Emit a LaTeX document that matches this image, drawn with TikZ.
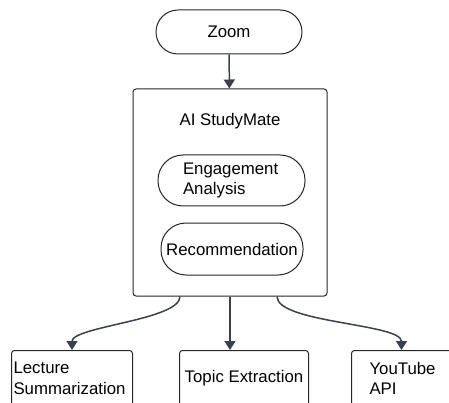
\documentclass[tikz,border=0pt]{standalone}
\usepackage{fontspec}
\setmainfont{Liberation Sans}
\usetikzlibrary{arrows.meta}
\definecolor{linkgray}{RGB}{58,64,78}

\begin{document}
\begin{tikzpicture}[x=1pt,y=-1pt,every text node part/.style={align=left},
    font=\fontsize{16.8}{20.5}\selectfont]
  \tikzstyle{pill}=[draw=black!85,line width=1pt,inner sep=2pt]
  \tikzstyle{block}=[draw=black!85,line width=1pt,rounded corners=3pt,
    inner sep=2pt,anchor=north west,minimum height=56pt]
  \tikzstyle{link}=[draw=linkgray,line width=1.5pt,
    -{Triangle[length=9pt,width=11pt]}]

  \clip (0,0) rectangle (449,403);

  \node [pill,rounded corners=22pt,minimum width=146pt,minimum height=44pt] (zoom) at (229,32) {Zoom};
  \node [block,anchor=center,minimum width=194pt,minimum height=207pt] (mate) at (230,192.5) {};
  \node (title) at (230,121) {AI StudyMate};
  \node [pill,rounded corners=25pt,minimum width=147pt,minimum height=51pt,text width=97pt] (engage) at (231.5,180.5) {Engagement\\Analysis};
  \node [pill,rounded corners=25pt,minimum width=142pt,minimum height=52pt] (recom) at (232,249) {Recommendation};

  \node [block,minimum width=121pt,text width=117pt] (lecture) at (11,350) {Lecture\\Summarization};
  \node [block,minimum width=129pt,align=center] (topic) at (179,350) {Topic Extraction};
  \node [block,minimum width=100pt,text width=64pt] (youtube) at (351,350) {YouTube\\API};

  \draw [link] (zoom) -- (mate);
  \draw [link] ([xshift=-50pt]mate.south) to[out=-90,in=90,looseness=0.5] (lecture.north);
  \draw [link] (mate.south) -- (mate.south |- topic.north);
  \draw [link] ([xshift=47pt]mate.south) to[out=-90,in=90,looseness=0.5] (youtube.north);
\end{tikzpicture}
\end{document}
